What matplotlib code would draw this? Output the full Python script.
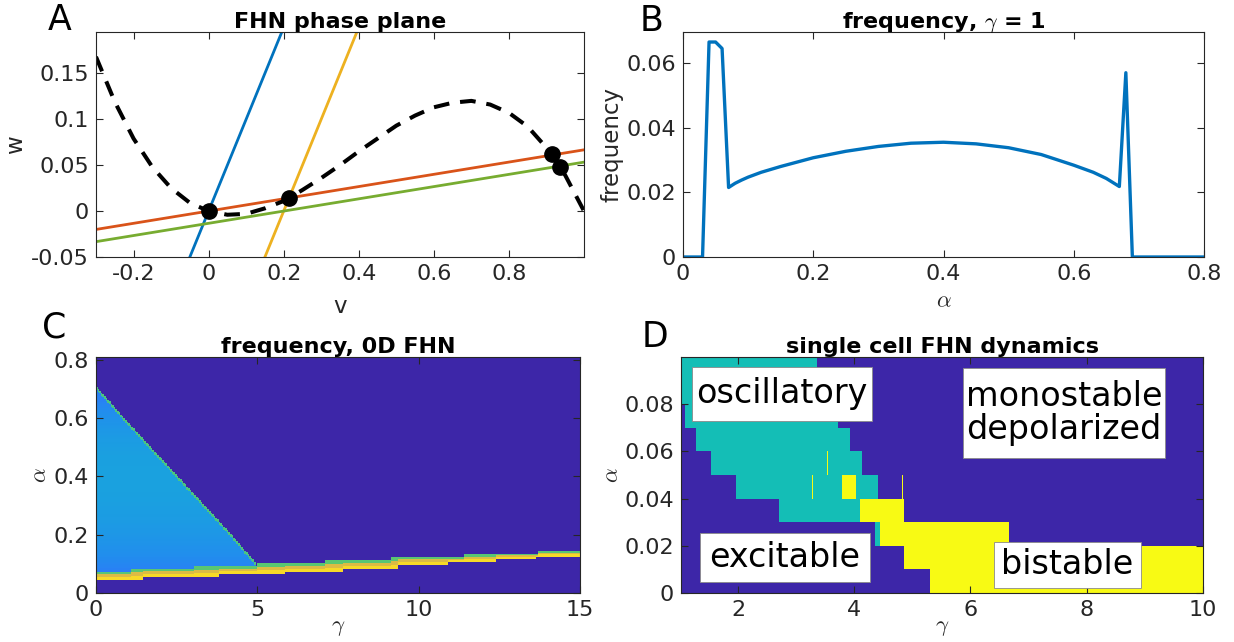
import numpy as np
import matplotlib
matplotlib.use('Agg')
import matplotlib.pyplot as plt
from matplotlib.colors import LinearSegmentedColormap
from matplotlib.patches import Rectangle

plt.rcParams['font.family'] = ['DejaVu Sans']
plt.rcParams['mathtext.fontset'] = 'cm'
plt.rcParams['axes.unicode_minus'] = False

# ---- panel A: phase plane ----
v_null = [-0.30, -0.25, -0.20, -0.15, -0.10, -0.05, 0.00, 0.05, 0.10, 0.15, 0.20,
          0.25, 0.30, 0.35, 0.40, 0.45, 0.50, 0.55, 0.60, 0.65, 0.70, 0.75, 0.80,
          0.85, 0.90, 0.95, 1.00]
w_null = [0.168, 0.119, 0.079, 0.048, 0.025, 0.009, 0.000, -0.004, -0.003, 0.003, 0.011,
          0.023, 0.036, 0.050, 0.065, 0.079, 0.093, 0.104, 0.113, 0.118, 0.120, 0.116, 0.107,
          0.092, 0.069, 0.039, 0.000]
line_v = {'blue': [-0.05, 0.2], 'orange': [-0.3, 1.0], 'yellow': [0.15, 0.4], 'green': [-0.3, 1.0]}
line_w = {'blue': [-0.05, 0.2], 'orange': [-0.02, 0.0667], 'yellow': [-0.05, 0.2], 'green': [-0.0333, 0.0533]}
line_col = {'blue': '#0072BD', 'orange': '#D95319', 'yellow': '#EDB120', 'green': '#77AC30'}
fp_v = [0.0, 0.215, 0.915, 0.936]
fp_w = [0.0, 0.0145, 0.062, 0.048]

# ---- panel B: frequency at gamma = 1 ----
alpha_b = [0, 0.01, 0.02, 0.03, 0.04, 0.05, 0.06, 0.07, 0.08, 0.09, 0.10, 0.12, 0.15, 0.20,
           0.25, 0.30, 0.35, 0.40, 0.45, 0.50, 0.55, 0.60, 0.63, 0.65, 0.67, 0.68, 0.69, 0.70, 0.80]
freq_b = [0, 0, 0, 0, 0.0665, 0.0665, 0.0645, 0.0215, 0.0228, 0.0238, 0.0247, 0.0262, 0.0280, 0.0307,
          0.0327, 0.0342, 0.0352, 0.0355, 0.0350, 0.0338, 0.0317, 0.0284, 0.0262, 0.0243, 0.0218,
          0.0570, 0, 0, 0]

# ---- panel C: frequency map (gamma, alpha) ----
tri_gamma = [0.0, 1.0, 2.0, 3.0, 4.0, 4.95]
tri_alpha = [0.71, 0.585, 0.465, 0.345, 0.225, 0.105]
band_lo_gamma = [0, 1.46, 3.8, 5.86, 7.66, 9.36, 10.9, 12.4, 13.67]
band_lo_alpha = [0.045, 0.055, 0.064, 0.073, 0.082, 0.095, 0.107, 0.117, 0.124]
band_hi_gamma = [0, 1.1, 3.07, 5.0, 7.1, 9.17, 11.4, 13.7]
band_hi_alpha = [0.072, 0.083, 0.092, 0.102, 0.113, 0.123, 0.134, 0.145]

# ---- panel D: single cell regimes, rows of 0.01 in alpha ----
d_rows = [0.00, 0.01, 0.02, 0.03, 0.04, 0.05, 0.06, 0.07, 0.08, 0.09]
d_osc = [None, None, (4.36, 4.44), (2.71, 4.10), (1.97, 4.41), (1.54, 4.13),
         (1.28, 3.93), (1.09, 3.72), (1.0, 3.36), (1.0, 3.36)]
d_bist = [(5.30, 10.1), (4.86, 10.1), (4.44, 6.66), (4.10, 4.86), (3.79, 4.03),
          None, None, None, None, None]
d_thin = [(0.04, 3.27), (0.05, 3.53), (0.04, 4.82)]
d_labels = ['oscillatory', 'monostable\ndepolarized', 'excitable', 'bistable']

parula = LinearSegmentedColormap.from_list('parula_like', [
    (0.00, (0.243, 0.150, 0.660)),
    (0.12, (0.275, 0.280, 0.930)),
    (0.22, (0.180, 0.470, 0.980)),
    (0.30, (0.130, 0.560, 0.930)),
    (0.40, (0.100, 0.640, 0.870)),
    (0.50, (0.075, 0.745, 0.720)),
    (0.60, (0.350, 0.780, 0.450)),
    (0.70, (0.720, 0.740, 0.300)),
    (0.80, (0.960, 0.730, 0.250)),
    (0.90, (0.970, 0.850, 0.160)),
    (1.00, (0.976, 0.984, 0.080))])

W, H = 1234, 642
fig = plt.figure(figsize=(W / 100, H / 100), dpi=100)


def box(l, t, r, b):
    return [l / W, 1 - b / H, (r - l) / W, (b - t) / H]


def style(ax):
    for s in ax.spines.values():
        s.set_color('#262626')
        s.set_linewidth(0.8)
    ax.tick_params(direction='in', top=True, right=True, length=5, width=0.8,
                   labelsize=16, colors='#262626', pad=5)


tfs = 16
lfs = 16.5

# A
axA = fig.add_axes(box(96, 32, 584, 257))
for k in ['blue', 'orange', 'yellow', 'green']:
    axA.plot(line_v[k], line_w[k], color=line_col[k], lw=2.0)
axA.plot(v_null, w_null, color='black', lw=2.9, linestyle=(0, (3.9, 2.7)))
axA.plot(fp_v, fp_w, 'o', color='black', ms=11, ls='none')
axA.set_xlim(-0.3, 1.0)
axA.set_ylim(-0.05, 0.195)
axA.set_xticks([-0.2, 0, 0.2, 0.4, 0.6, 0.8])
axA.set_xticklabels(['-0.2', '0', '0.2', '0.4', '0.6', '0.8'])
axA.set_yticks([-0.05, 0, 0.05, 0.1, 0.15])
axA.set_yticklabels(['-0.05', '0', '0.05', '0.1', '0.15'])
style(axA)
axA.set_title('FHN phase plane', fontsize=tfs, fontweight='bold', pad=3)
axA.text(-0.164, 0.5, 'w', transform=axA.transAxes, rotation=90, fontsize=lfs,
         ha='center', va='center', color='#262626')
axA.text(0.5, -0.25, 'v', transform=axA.transAxes, fontsize=lfs,
         ha='center', va='baseline', color='#262626')

# B
axB = fig.add_axes(box(683, 32, 1204, 257))
axB.plot(alpha_b, freq_b, color='#0072BD', lw=2.4)
axB.set_xlim(0, 0.8)
axB.set_ylim(0, 0.0696)
axB.set_xticks([0, 0.2, 0.4, 0.6, 0.8])
axB.set_xticklabels(['0', '0.2', '0.4', '0.6', '0.8'])
axB.set_yticks([0, 0.02, 0.04, 0.06])
axB.set_yticklabels(['0', '0.02', '0.04', '0.06'])
style(axB)
axB.set_title(r'frequency, $\gamma$ = 1', fontsize=tfs, fontweight='bold', pad=3)
axB.text(-0.136, 0.5, 'frequency', transform=axB.transAxes, rotation=90, fontsize=lfs,
         ha='center', va='center', color='#262626')
axB.text(0.5, -0.225, r'$\alpha$', transform=axB.transAxes, fontsize=lfs,
         ha='center', va='baseline', color='#262626')

# C
gam_c = np.arange(0, 15, 0.05) + 0.025
alp_c = np.arange(0, 0.81, 0.0025) + 0.00125
G, A = np.meshgrid(gam_c, alp_c)
top = np.interp(G, tri_gamma, tri_alpha)
lo = np.array(band_lo_alpha)[np.searchsorted(band_lo_gamma, G, side='right') - 1]
hi = np.array(band_hi_alpha)[np.searchsorted(band_hi_gamma, G, side='right') - 1]
Z = np.zeros_like(G)
tri = (G <= tri_gamma[-1]) & (A >= hi) & (A < top)
prof = np.interp(np.minimum(A, 0.66), alpha_b, freq_b) / 0.09
Z[tri] = prof[tri]
Z[tri & (A >= top - 0.01)] = 0.58
band = (A >= lo) & (A < hi)
frac = (A - lo) / (hi - lo)
Z[band] = 0.76
Z[band & (frac < 0.35)] = 0.9
Z[band & (frac > 0.7)] = 0.6

axC = fig.add_axes(box(96, 357, 580, 593))
axC.imshow(Z, origin='lower', extent=[0, 15, 0, 0.81], aspect='auto', cmap=parula,
           vmin=0, vmax=1, interpolation='nearest')
axC.set_xlim(0, 15)
axC.set_ylim(0, 0.81)
axC.set_xticks([0, 5, 10, 15])
axC.set_yticks([0, 0.2, 0.4, 0.6, 0.8])
axC.set_yticklabels(['0', '0.2', '0.4', '0.6', '0.8'])
style(axC)
axC.set_title('frequency, 0D FHN', fontsize=tfs, fontweight='bold', pad=3)
axC.text(-0.116, 0.5, r'$\alpha$', transform=axC.transAxes, rotation=90, fontsize=lfs,
         ha='center', va='center', color='#262626')
axC.text(0.5, -0.14, r'$\gamma$', transform=axC.transAxes, fontsize=lfs,
         ha='center', va='center', color='#262626')

# D
g_mid = np.linspace(1.0, 10.0, 1801)[:-1] + 0.0025
ZD = np.zeros((len(d_rows), len(g_mid)))
for i in range(len(d_rows)):
    if d_osc[i] is not None:
        ZD[i, (g_mid >= d_osc[i][0]) & (g_mid < d_osc[i][1])] = 0.5
    if d_bist[i] is not None:
        ZD[i, (g_mid >= d_bist[i][0]) & (g_mid < d_bist[i][1])] = 1.0
for a0, g0 in d_thin:
    i = d_rows.index(a0)
    ZD[i, (g_mid >= g0) & (g_mid < g0 + 0.015)] = 1.0

axD = fig.add_axes(box(681, 357, 1203, 593))
axD.imshow(ZD, origin='lower', extent=[1.0, 10.0, 0, 0.1], aspect='auto', cmap=parula,
           vmin=0, vmax=1, interpolation='nearest')
axD.set_xlim(1.02, 10)
axD.set_ylim(0, 0.1)
axD.set_xticks([2, 4, 6, 8, 10])
axD.set_yticks([0, 0.02, 0.04, 0.06, 0.08])
axD.set_yticklabels(['0', '0.02', '0.04', '0.06', '0.08'])
style(axD)
axD.set_title('single cell FHN dynamics', fontsize=tfs, fontweight='bold', pad=3)
axD.text(-0.132, 0.5, r'$\alpha$', transform=axD.transAxes, rotation=90, fontsize=lfs,
         ha='center', va='center', color='#262626')
axD.text(0.5, -0.14, r'$\gamma$', transform=axD.transAxes, fontsize=lfs,
         ha='center', va='center', color='#262626')

# white label boxes (pixel boxes: left, top, right, bottom)
lab_boxes = [(692, 367, 872, 421), (963, 368, 1165, 458), (700, 533, 870, 582), (994, 542, 1141, 588)]
for txt, (l, t, r, b) in zip(d_labels, lab_boxes):
    fig.patches.append(Rectangle((l / W, 1 - b / H), (r - l) / W, (b - t) / H,
                                 transform=fig.transFigure, facecolor='white',
                                 edgecolor='#8a8a8a', linewidth=0.6, zorder=2))
    fig.text((l + r) / 2 / W, 1 - (t + b) / 2 / H, txt, fontsize=24, ha='center',
             va='center', linespacing=1.0, zorder=3)

# panel letters
for lab, x, yb in [('A', 48, 30), ('B', 640, 31), ('C', 42, 338), ('D', 642, 347)]:
    fig.text(x / W, 1 - yb / H, lab, fontsize=25, ha='left', va='baseline')

fig.savefig('out.png', dpi=100)
